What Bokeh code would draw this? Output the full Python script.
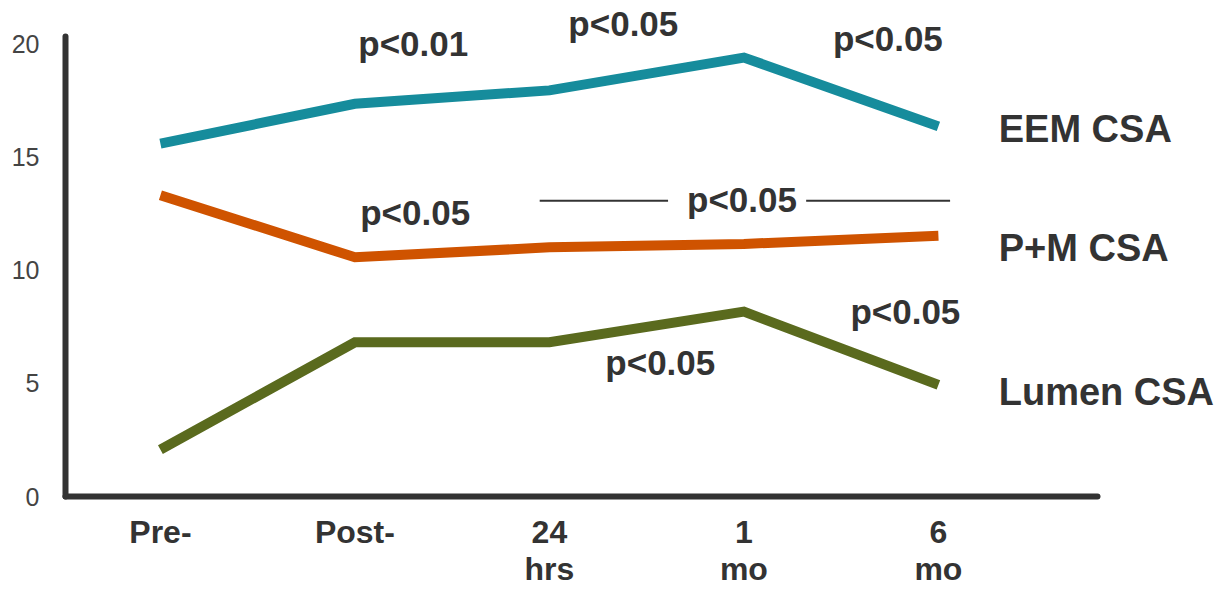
from bokeh.plotting import figure
from bokeh.models import Range1d, FixedTicker, Label, ColumnDataSource
from bokeh.embed import file_html
from bokeh.resources import INLINE

# ---- data ----
timepoints = ["Pre-", "Post-", "24\nhrs", "1\nmo", "6\nmo"]
eem_csa = [15.58, 17.34, 17.93, 19.38, 16.34]
pm_csa = [13.3, 10.56, 11.0, 11.15, 11.51]
lumen_csa = [2.07, 6.81, 6.81, 8.16, 4.93]
series_names = ["EEM CSA", "P+M CSA", "Lumen CSA"]
y_ticks = [0, 5, 10, 15, 20]

# annotation texts
p_texts = ["p<0.01", "p<0.05", "p<0.05", "p<0.05", "p<0.05", "p<0.05", "p<0.05"]

xs = list(range(len(timepoints)))

FONT = "Liberation Sans"
DARK = "#333333"

# frame: left edge 65px (y axis line), bottom edge ~496px (x axis line),
# extending to the right/top edges of the canvas so labels are not clipped
PX_X = 194.5   # px per x unit
PX_Y = 22.65   # px per y unit
x0 = -0.488
x1 = x0 + (1221 - 65) / PX_X
y0 = 0
y1 = 496 / PX_Y

p = figure(width=1221, height=590, output_backend="svg", toolbar_location=None,
           x_range=Range1d(x0, x1), y_range=Range1d(y0, y1),
           min_border_left=65, min_border_right=0, min_border_top=0, min_border_bottom=90)
p.outline_line_color = None
p.grid.visible = False
p.background_fill_color = "white"
p.border_fill_color = "white"

p.xaxis.ticker = FixedTicker(ticks=xs)
p.xaxis.major_label_overrides = {i: t for i, t in enumerate(timepoints)}
p.xaxis.bounds = (x0, 4.82)
p.yaxis.ticker = FixedTicker(ticks=y_ticks)
p.yaxis.bounds = (0, 20.3)
for ax in (p.xaxis, p.yaxis):
    ax.axis_line_color = DARK
    ax.axis_line_width = 6
    ax.axis_line_cap = "round"
    ax.major_tick_line_color = None
    ax.minor_tick_line_color = None
    ax.major_label_text_font = FONT
p.xaxis.major_label_text_font_size = "32px"
p.xaxis.major_label_text_font_style = "bold"
p.xaxis.major_label_text_color = DARK
p.xaxis.major_label_text_line_height = 1.05
p.xaxis.major_label_standoff = 11
p.yaxis.major_label_text_font_size = "25px"
p.yaxis.major_label_text_color = "#444444"
p.yaxis.major_label_standoff = 20

colors = ["#168C9C", "#CF5300", "#5A6A1E"]
for vals, c in zip([eem_csa, pm_csa, lumen_csa], colors):
    p.line(xs, vals, line_color=c, line_width=10, line_join="miter")

# series labels
label_pos = [(4.31, 16.21), (4.31, 10.97), (4.31, 4.63)]
for name, (lx, ly) in zip(series_names, label_pos):
    p.add_layout(Label(x=lx, y=ly, text=name, text_font=FONT, text_font_size="38px",
                       text_font_style="bold", text_color=DARK,
                       text_align="left", text_baseline="alphabetic"))

# p-value annotations
p_pos = [(1.30, 20.0), (2.38, 20.88), (3.74, 20.22), (1.31, 12.56),
         (2.99, 13.13), (3.83, 8.15), (2.57, 5.9)]
for t, (lx, ly) in zip(p_texts, p_pos):
    p.add_layout(Label(x=lx, y=ly, text=t, text_font=FONT, text_font_size="35px",
                       text_font_style="bold", text_color=DARK,
                       text_align="center", text_baseline="alphabetic"))

# bracket lines around the span p-value
br = ColumnDataSource(dict(x0=[1.95, 3.32], x1=[2.61, 4.06], y0=[13.06, 13.06], y1=[13.06, 13.06]))
p.segment(x0="x0", y0="y0", x1="x1", y1="y1", source=br, line_color=DARK, line_width=2)

open("out.html", "w").write(file_html(p, INLINE))
